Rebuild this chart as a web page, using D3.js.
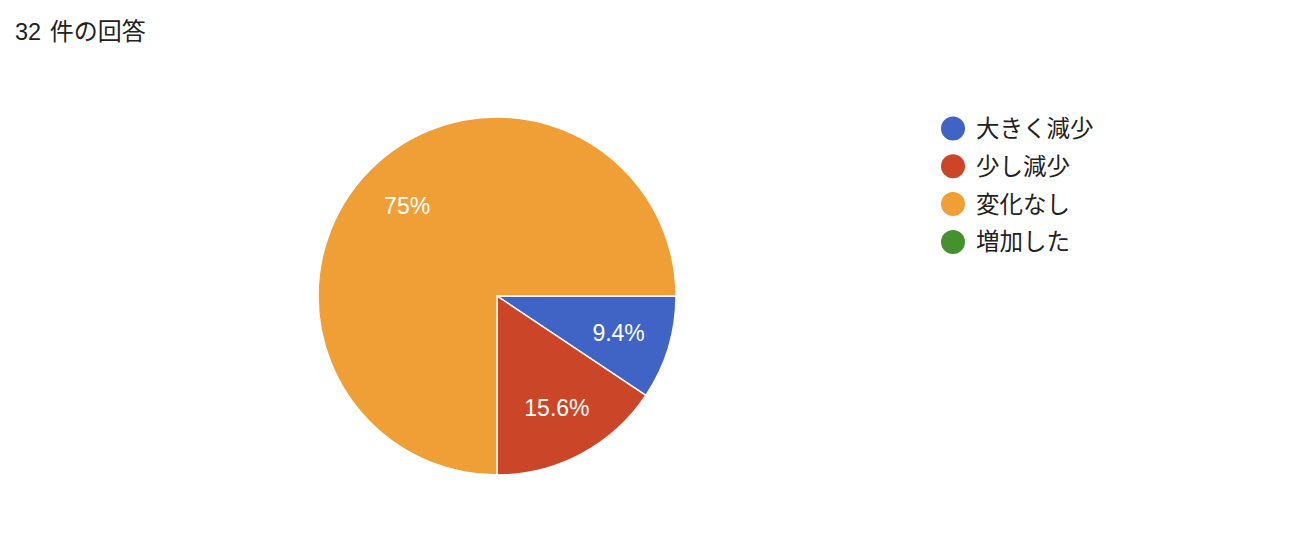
<!DOCTYPE html>
<html>
<head>
<meta charset="utf-8">
<script src="https://cdn.jsdelivr.net/npm/d3@7"></script>
<style>
  body { margin: 0; background: #fff; }
  svg text { font-family: "Liberation Sans", Arial, "Noto Sans CJK JP", sans-serif; }
</style>
</head>
<body>
<div id="chart"></div>
<script>
var titleCount = "32";
var titleText = "件の回答";
var categories = ["大きく減少", "少し減少", "変化なし", "増加した"];
var counts = [3, 5, 24, 0];
var colors = ["#4064c6", "#cb4628", "#f09e36", "#43922f"];

var width = 1306, height = 544;
var cx = 497, cy = 296, radius = 179;

var svg = d3.select("#chart").append("svg")
    .attr("width", width)
    .attr("height", height);

var t = svg.append("text")
    .attr("x", 15)
    .attr("y", 40)
    .attr("font-size", 23.5)
    .attr("fill", "#222");
t.append("tspan").text(titleCount + " ");
t.append("tspan").attr("dx", 2).attr("font-size", 24).text(titleText);

var data = categories.map(function (c, i) {
    return { name: c, value: counts[i], color: colors[i] };
});
var total = d3.sum(counts);

// clockwise from 3 o'clock
var pie = d3.pie()
    .sort(null)
    .value(function (d) { return d.value; })
    .startAngle(Math.PI / 2)
    .endAngle(Math.PI / 2 + 2 * Math.PI);

var arc = d3.arc().innerRadius(0).outerRadius(radius);
var labelArc = d3.arc().innerRadius(radius * 0.71).outerRadius(radius * 0.71);

var g = svg.append("g").attr("transform", "translate(" + cx + "," + cy + ")");

var slices = pie(data).filter(function (d) { return d.data.value > 0; });

g.selectAll("path")
    .data(slices)
  .enter().append("path")
    .attr("d", arc)
    .attr("fill", function (d) { return d.data.color; })
    .attr("stroke", "#fff")
    .attr("stroke-width", 1.5);

g.selectAll(".lbl")
    .data(slices)
  .enter().append("text")
    .attr("class", "lbl")
    .attr("transform", function (d) { return "translate(" + labelArc.centroid(d) + ")"; })
    .attr("text-anchor", "middle")
    .attr("dy", "0.36em")
    .attr("font-size", 23)
    .attr("fill", "#fff")
    .text(function (d) {
        var p = d.data.value / total * 100;
        return (Math.round(p * 10) / 10) + "%";
    });

// legend
var legend = svg.selectAll(".legend")
    .data(data)
  .enter().append("g")
    .attr("class", "legend")
    .attr("transform", function (d, i) { return "translate(953," + (128.5 + i * 37.8) + ")"; });

legend.append("circle")
    .attr("r", 12)
    .attr("fill", function (d) { return d.color; });

legend.append("text")
    .attr("x", 23)
    .attr("dy", "0.36em")
    .attr("font-size", 23.5)
    .attr("fill", "#222")
    .text(function (d) { return d.name; });
</script>
</body>
</html>
